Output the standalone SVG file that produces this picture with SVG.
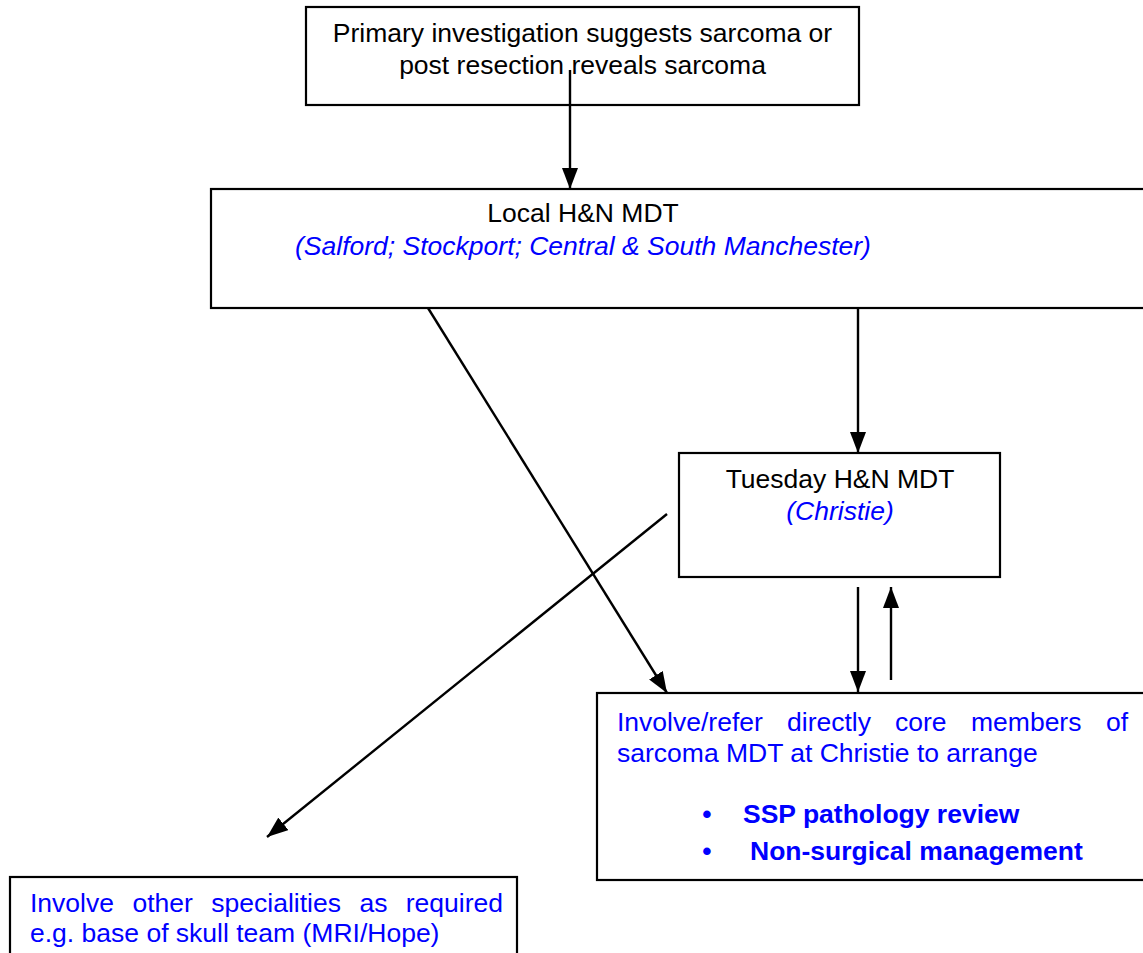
<svg xmlns="http://www.w3.org/2000/svg" width="1143" height="953" viewBox="0 0 1143 953">
  <style>
    .box { fill: #ffffff; stroke: #000000; stroke-width: 2.2; }
    .txt { font-family: "Liberation Sans", Arial, sans-serif; font-size: 26.5px; fill: #000000; }
    .blue { fill: #0000ff; }
    .ital { font-style: italic; }
    .bold { font-weight: bold; }
    .mid { text-anchor: middle; }
    .link { stroke: #000000; stroke-width: 2.4; fill: none; marker-end: url(#arrow); }
  </style>
  <defs>
    <marker id="arrow" markerUnits="userSpaceOnUse" markerWidth="22" markerHeight="16" viewBox="0 0 22 16" refX="21" refY="8" orient="auto">
      <path d="M0,0 L21,8 L0,16 Z" fill="#000000"/>
    </marker>
  </defs>
  <rect width="1143" height="953" fill="#ffffff"/>

  <g id="node-primary">
    <rect class="box" x="306" y="7" width="553" height="98"/>
    <text class="txt mid" x="582.5" y="42">Primary investigation suggests sarcoma or</text>
    <text class="txt mid" x="582.5" y="74">post resection reveals sarcoma</text>
  </g>

  <g id="node-local">
    <rect class="box" x="211" y="189" width="1000" height="119"/>
    <text class="txt mid" x="583" y="222">Local H&amp;N MDT</text>
    <text class="txt mid blue ital" x="583" y="255">(Salford; Stockport; Central &amp; South Manchester)</text>
  </g>

  <g id="node-tuesday">
    <rect class="box" x="679" y="453" width="321" height="124"/>
    <text class="txt mid" x="840" y="488">Tuesday H&amp;N MDT</text>
    <text class="txt mid blue ital" x="840" y="520">(Christie)</text>
  </g>

  <g id="node-sarcoma">
    <rect class="box" x="597" y="693" width="600" height="187"/>
    <text class="txt blue" y="731"><tspan x="617">Involve/refer</tspan><tspan x="787">directly</tspan><tspan x="895">core</tspan><tspan x="971">members</tspan><tspan x="1106">of</tspan></text>
    <text class="txt blue" x="617" y="762">sarcoma MDT at Christie to arrange</text>
    <text class="txt blue bold mid" x="707" y="823">•</text>
    <text class="txt blue bold" x="743" y="823">SSP pathology review</text>
    <text class="txt blue bold mid" x="707" y="860">•</text>
    <text class="txt blue bold" x="750" y="860">Non-surgical management</text>
  </g>

  <g id="node-other">
    <rect class="box" x="10" y="877" width="507" height="100"/>
    <text class="txt blue" y="912"><tspan x="30">Involve</tspan><tspan x="132.5">other</tspan><tspan x="211.3">specialities</tspan><tspan x="359.4">as</tspan><tspan x="405.8">required</tspan></text>
    <text class="txt blue" x="30" y="942">e.g. base of skull team (MRI/Hope)</text>
  </g>

  <g id="connectors">
    <line class="link" x1="570" y1="70" x2="570" y2="189"/>
    <line class="link" x1="858" y1="308" x2="858" y2="453"/>
    <line class="link" x1="428" y1="308" x2="667" y2="693"/>
    <line class="link" x1="667" y1="514" x2="267" y2="837"/>
    <line class="link" x1="858" y1="587" x2="858" y2="692"/>
    <line class="link" x1="891" y1="680" x2="891" y2="587"/>
  </g>
</svg>
